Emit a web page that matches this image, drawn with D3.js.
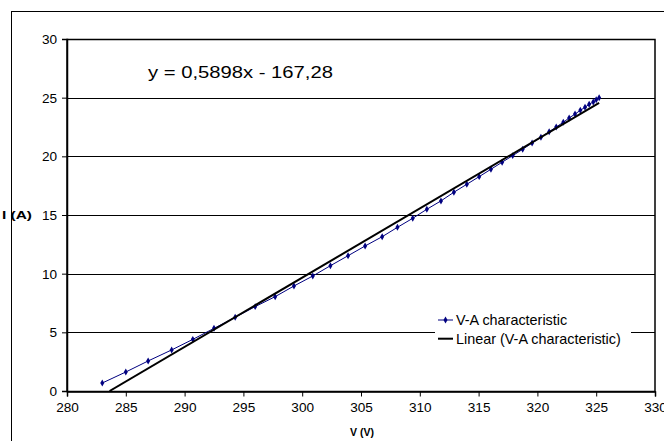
<!DOCTYPE html>
<html>
<head>
<meta charset="utf-8">
<script src="https://cdn.jsdelivr.net/npm/d3@7"></script>
<style>
  body { margin: 0; background: #fff; }
  svg { display: block; font-family: "Liberation Sans", Arial, sans-serif; }
</style>
</head>
<body>
<div id="chart"></div>
<script>
const voltage = [283.0, 285.0, 286.9, 288.9, 290.7, 292.5, 294.3, 296.0, 297.7, 299.3,
  300.9, 302.4, 303.9, 305.35, 306.8, 308.1, 309.4, 310.6, 311.8, 312.9,
  314.0, 315.05, 316.05, 317.0, 317.9, 318.75, 319.55, 320.3, 321.0, 321.6,
  322.2, 322.7, 323.2, 323.65, 324.05, 324.4, 324.75, 325.0, 325.25];
const current = [0.68, 1.62, 2.56, 3.5, 4.4, 5.34, 6.28, 7.19, 8.04, 8.95,
  9.8, 10.68, 11.53, 12.36, 13.15, 13.95, 14.72, 15.49, 16.2, 16.94,
  17.62, 18.27, 18.9, 19.5, 20.06, 20.6, 21.14, 21.63, 22.1, 22.5,
  22.9, 23.27, 23.6, 23.92, 24.18, 24.44, 24.63, 24.83, 25.0];
const xTicks = [280, 285, 290, 295, 300, 305, 310, 315, 320, 325, 330];
const yTicks = [0, 5, 10, 15, 20, 25, 30];
const slope = 0.5898;
const intercept = -167.28;
const seriesNames = ['V-A characteristic', 'Linear (V-A characteristic)'];
const equationLabel = 'y = 0,5898x - 167,28';

const width = 664, height = 441;
const margin = { top: 39, right: 8, bottom: 50, left: 67 };

const svg = d3.select('#chart').append('svg')
  .attr('width', width)
  .attr('height', height);

// outer chart border (runs off the right/bottom edge like the original)
svg.append('rect')
  .attr('x', 11.5).attr('y', 11.5)
  .attr('width', width + 10).attr('height', height + 10)
  .attr('fill', '#fff').attr('stroke', '#000').attr('stroke-width', 1);

const x = d3.scaleLinear().domain([280, 330]).range([margin.left, width - margin.right - 1]);
const y = d3.scaleLinear().domain([0, 30]).range([height - margin.bottom, margin.top]);

// gridlines
svg.append('g')
  .selectAll('line')
  .data(yTicks.filter(d => d > 0))
  .join('line')
  .attr('x1', x(280)).attr('x2', x(330))
  .attr('y1', d => Math.round(y(d)) + 0.5).attr('y2', d => Math.round(y(d)) + 0.5)
  .attr('stroke', '#000').attr('stroke-width', 1);

// plot area border
svg.append('rect')
  .attr('x', x(280)).attr('y', Math.round(y(30)) + 0.5)
  .attr('width', x(330) - x(280)).attr('height', y(0) - y(30))
  .attr('fill', 'none').attr('stroke', '#000').attr('stroke-width', 1.5);

const xAxis = svg.append('g')
  .attr('transform', `translate(0,${Math.round(y(0)) + 0.5})`)
  .call(d3.axisBottom(x).tickValues(xTicks).tickSize(5).tickPadding(6).tickFormat(d3.format('d')));
const yAxis = svg.append('g')
  .attr('transform', `translate(${x(280)},0)`)
  .call(d3.axisLeft(y).tickValues(yTicks).tickSize(5).tickPadding(5).tickFormat(d3.format('d')));

[xAxis, yAxis].forEach(g => {
  g.select('.domain').attr('stroke', '#000').attr('stroke-width', 1.5);
  g.selectAll('.tick line').attr('stroke', '#000');
  g.selectAll('.tick text')
    .attr('fill', '#000')
    .style('font-size', '13.6px')
    .style('font-family', '"Liberation Sans", Arial, sans-serif');
});

// axis titles
svg.append('text')
  .attr('x', 350).attr('y', 436)
  .attr('textLength', 24).attr('lengthAdjust', 'spacingAndGlyphs')
  .style('font-size', '10.5px').style('font-weight', 'bold')
  .text('V (V)');
svg.append('text')
  .attr('x', 2).attr('y', y(15) + 4)
  .attr('textLength', 30).attr('lengthAdjust', 'spacingAndGlyphs')
  .style('font-size', '10.5px').style('font-weight', 'bold')
  .text('I (A)');

svg.append('clipPath').attr('id', 'plot-clip')
  .append('rect')
  .attr('x', x(280)).attr('y', y(30))
  .attr('width', x(330) - x(280)).attr('height', y(0) - y(30));

const points = voltage.map((v, i) => [v, current[i]]);

// data series
svg.append('path')
  .datum(points)
  .attr('fill', 'none')
  .attr('stroke', '#000080')
  .attr('stroke-width', 1)
  .attr('d', d3.line().x(d => x(d[0])).y(d => y(d[1])));

const diamond = d3.symbol().type(d3.symbolDiamond).size(14);
svg.append('g')
  .selectAll('path')
  .data(points)
  .join('path')
  .attr('transform', d => `translate(${x(d[0])},${y(d[1])})`)
  .attr('d', diamond)
  .attr('fill', '#000080');

// linear trendline, from where it crosses 0 to last measured voltage
const xStart = -intercept / slope;
const xEnd = d3.max(voltage);
svg.append('line')
  .attr('clip-path', 'url(#plot-clip)')
  .attr('x1', x(xStart)).attr('y1', y(0))
  .attr('x2', x(xEnd)).attr('y2', y(slope * xEnd + intercept))
  .attr('stroke', '#000').attr('stroke-width', 2);

svg.append('text')
  .attr('x', 148).attr('y', 78)
  .attr('textLength', 185).attr('lengthAdjust', 'spacingAndGlyphs')
  .style('font-size', '16.5px')
  .text(equationLabel);

// legend
const legend = svg.append('g').attr('transform', 'translate(435,309)');
legend.append('rect')
  .attr('width', 196).attr('height', 40)
  .attr('fill', '#fff');
const rows = legend.selectAll('g')
  .data(seriesNames)
  .join('g')
  .attr('transform', (d, i) => `translate(0,${11 + i * 18.7})`);
rows.append('line')
  .attr('x1', 3).attr('x2', 18)
  .attr('stroke', (d, i) => i === 0 ? '#000080' : '#000')
  .attr('stroke-width', (d, i) => i === 0 ? 1 : 2);
rows.filter((d, i) => i === 0).append('path')
  .attr('transform', 'translate(10.5,0)')
  .attr('d', diamond)
  .attr('fill', '#000080');
rows.append('text')
  .attr('x', 21).attr('y', 5)
  .style('font-size', '14.4px')
  .text(d => d);
</script>
</body>
</html>
